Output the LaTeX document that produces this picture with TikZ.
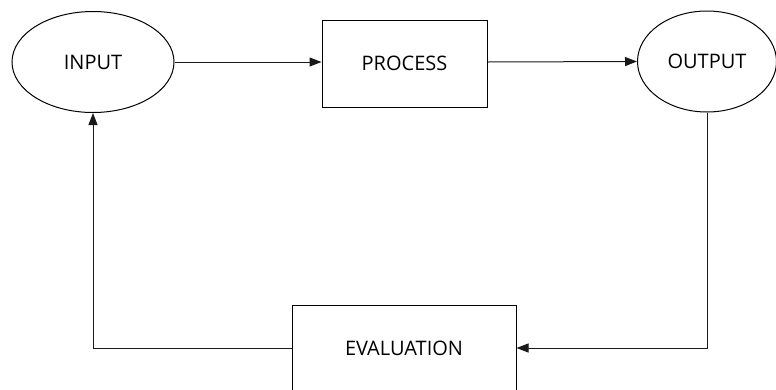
\documentclass[tikz,border=0pt]{standalone}
\usepackage{fontspec}
\setmainfont{Open Sans}
\usetikzlibrary{shapes.geometric,arrows.meta}
\begin{document}
\begin{tikzpicture}[x=1pt,y=-1pt,
  every node/.style={font=\fontsize{20}{24}\selectfont, text=black},
  oval/.style={draw=black, ellipse, line width=1pt, inner sep=0pt},
  block/.style={draw=black, rectangle, line width=1pt, inner sep=0pt},
  link/.style={line width=1pt, draw=black!90, -{Triangle[length=12pt,width=9pt]}}]
  \useasboundingbox (0,0) rectangle (776,389);
  \node[oval, minimum width=162pt, minimum height=101pt] (in) at (93,62) {INPUT};
  \node[block, minimum width=165pt, minimum height=87pt] (proc) at (404.5,63.5) {PROCESS};
  \node[oval, minimum width=139pt, minimum height=101pt] (out) at (707,61.5) {OUTPUT};
  \node[block, minimum width=224pt, minimum height=86pt] (eval) at (404,348) {EVALUATION};
  \draw[link] (in.east) -- (in.east -| proc.west);
  \draw[link] (proc.east |- in.east) -- (out.west);
  \draw[link] (out.south) |- (eval.east);
  \draw[link] (eval.west) -| (in.south);
\end{tikzpicture}
\end{document}
